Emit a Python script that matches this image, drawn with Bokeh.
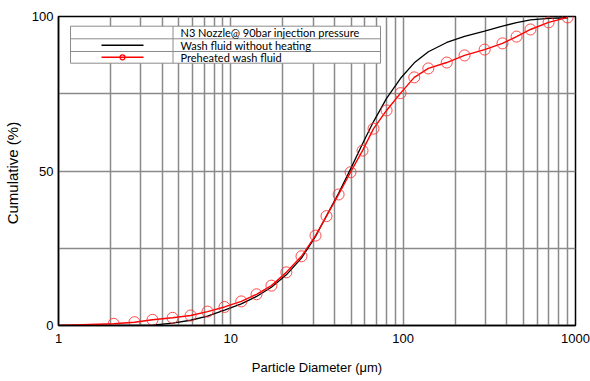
from bokeh.plotting import figure
from bokeh.models import FixedTicker, NumeralTickFormatter, Range1d
from bokeh.core.properties import value
from bokeh.embed import file_html
from bokeh.resources import INLINE

# ---------------- data ----------------
size_um = [1.0, 2.09, 2.76, 3.51, 4.59, 5.84, 7.32, 9.19, 11.5, 14.1, 17.2, 21.0, 25.7,
           31.0, 35.9, 42.2, 49.5, 58.1, 67.3, 80.1, 96.6, 116, 140, 179, 227, 297,
           377, 455, 548, 698, 900]
preheated_pct = [0.0, 0.55, 1.07, 1.84, 2.49, 3.24, 4.5, 6.0, 7.8, 10.1, 12.9, 17.2, 22.4,
                 29.1, 35.4, 42.4, 49.6, 56.6, 63.7, 69.6, 75.2, 80.3, 83.2, 85.1, 87.4, 89.3,
                 91.3, 93.5, 95.8, 98.1, 99.7]
no_heating_pct = [0.0, 0.0, 0.0, 0.1, 0.8, 1.7, 3.0, 5.0, 7.0, 9.4, 12.4, 16.4, 21.8,
                  28.8, 35.5, 42.8, 50.6, 58.8, 66.0, 73.5, 80.0, 85.0, 88.6, 91.6, 93.6, 95.3,
                  96.9, 98.0, 98.9, 99.4, 99.6]

x_major = [1, 10, 100, 1000]
x_minor = [m * d for d in (1, 10, 100) for m in range(2, 10)]
y_major = [0, 50, 100]
y_minor = [25, 75]

legend_title = "N3 Nozzle@ 90bar injection pressure"
legend_black = "Wash fluid without heating"
legend_red = "Preheated wash fluid"

# ---------------- figure ----------------
W, H = 590, 381
FL, FR, FT, FB = 58, 575, 16, 325  # frame edges in pixels

p = figure(width=W, height=H, x_axis_type="log",
           x_range=Range1d(1, 1000), y_range=Range1d(0, 100),
           output_backend="svg", toolbar_location=None,
           min_border_left=FL, min_border_right=W - FR,
           min_border_top=FT, min_border_bottom=H - FB,
           background_fill_color="white", border_fill_color="white")

p.outline_line_color = "black"
p.outline_line_width = 1.5

grid_col = "#8a8a8a"
p.xaxis.ticker = FixedTicker(ticks=x_major, minor_ticks=x_minor)
p.yaxis.ticker = FixedTicker(ticks=y_major, minor_ticks=y_minor)
p.xaxis.formatter = NumeralTickFormatter(format="0")
p.yaxis.formatter = NumeralTickFormatter(format="0")
for g in (p.xgrid, p.ygrid):
    g.grid_line_color = grid_col
    g.grid_line_width = 1.5
    g.minor_grid_line_color = grid_col
    g.minor_grid_line_width = 1.5

for ax in (p.xaxis, p.yaxis):
    ax.axis_line_color = "black"
    ax.axis_line_width = 1.5
    ax.major_tick_line_color = None
    ax.minor_tick_line_color = None
    ax.major_tick_out = 0
    ax.major_tick_in = 0
    ax.minor_tick_out = 0
    ax.minor_tick_in = 0
    ax.major_label_text_font = "Liberation Sans"
    ax.major_label_text_font_size = "13px"
    ax.major_label_text_color = "black"
    ax.axis_label_text_font = "Liberation Sans"
    ax.axis_label_text_font_style = "normal"
    ax.axis_label_text_color = "black"

p.xaxis.axis_label = "Particle Diameter (μm)"
p.xaxis.axis_label_text_font_size = "13px"
p.xaxis.major_label_standoff = 8
p.xaxis.axis_label_standoff = 14

p.yaxis.axis_label = "Cumulative  (%)"
p.yaxis.axis_label_text_font_size = "15px"
p.yaxis.major_label_standoff = 5
p.yaxis.axis_label_standoff = 8

# ---------------- data marks ----------------
p.line(size_um, no_heating_pct, line_color="black", line_width=1.3)
p.line(size_um, preheated_pct, line_color="#ff0000", line_width=1.4)
p.scatter(size_um[1:], preheated_pct[1:], marker="circle", size=11,
          fill_color=None, line_color="#ff2a2a", line_width=1, line_alpha=0.85)

# ---------------- table-style legend (decoration) ----------------
import math
def sx(px):
    return 10 ** (3 * (px - FL) / (FR - FL))
def sy(py):
    return 100 * (FB - py) / (FB - FT)

lg_l, lg_d, lg_r = 70, 172.5, 380
lg_rows = [25.7, 38.3, 51.0, 62.7]
lg_col = "#8c8c8c"
p.quad(left=[sx(lg_l)], right=[sx(lg_r)], top=[sy(lg_rows[0])], bottom=[sy(lg_rows[3])],
       fill_color="white", line_color=lg_col, line_width=1)
p.segment(x0=[sx(lg_l), sx(lg_l)], x1=[sx(lg_r), sx(lg_r)],
          y0=[sy(lg_rows[1]), sy(lg_rows[2])], y1=[sy(lg_rows[1]), sy(lg_rows[2])],
          line_color=lg_col, line_width=1)
p.segment(x0=[sx(lg_d)], x1=[sx(lg_d)], y0=[sy(lg_rows[0])], y1=[sy(lg_rows[3])],
          line_color=lg_col, line_width=1)

row_c = [(lg_rows[i] + lg_rows[i + 1]) / 2 for i in range(3)]
p.text(x=[sx(180)] * 3, y=[sy(r) for r in row_c],
       text=[legend_title, legend_black, legend_red],
       text_font=value("Lato"), text_font_size="11px", text_color="black",
       text_baseline="middle", text_align="left")
p.line([sx(101), sx(143)], [sy(row_c[1]), sy(row_c[1])], line_color="black", line_width=1.5)
p.line([sx(101), sx(143)], [sy(row_c[2]), sy(row_c[2])], line_color="#ff0000", line_width=1.5)
p.scatter([sx(122)], [sy(row_c[2])], marker="circle", size=5,
          fill_color=None, line_color="#ff0000", line_width=1.2)

open("out.html", "w").write(file_html(p, INLINE))
